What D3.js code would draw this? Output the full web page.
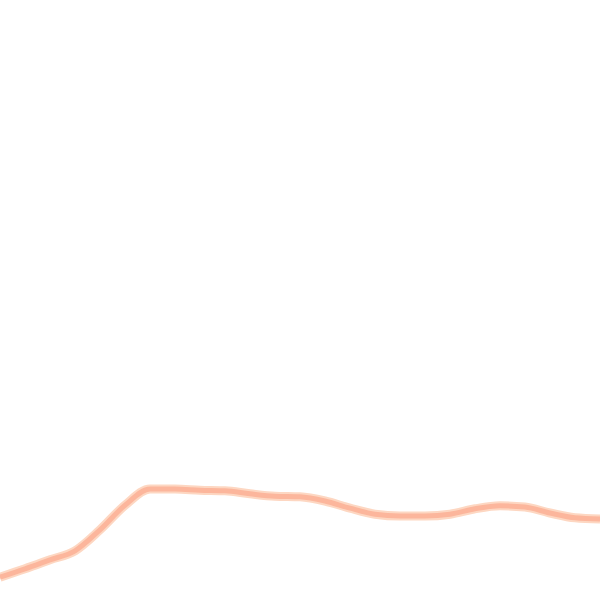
<!DOCTYPE html>
<html>
<head>
<meta charset="utf-8">
<script src="https://cdn.jsdelivr.net/npm/d3@7"></script>
<style>
  html, body { margin: 0; padding: 0; background: #fff; }
  svg { display: block; }
</style>
</head>
<body>
<script>
//series values, one per step
var steps = [0,1,2,3,4,5,6,7,8,9,10,11,12,13,14,15,16,17,18,19,20,21,22,23,24];
var values = [3.8,5.2,6.7,8.2,11.7,15.8,18.5,18.5,18.3,18.2,17.7,17.3,17.2,16.5,15.3,14.3,14.0,14.0,14.3,15.2,15.7,15.5,14.5,13.7,13.5];

window.onload = function(){
    var width = 600,
        height = 600;

    var svg = d3.select("body")
        .append("svg")
        .attr("width", width)
        .attr("height", height);

    var x = d3.scaleLinear()
        .domain([0, steps.length - 1])
        .range([0, width]);

    var y = d3.scaleLinear()
        .domain([0, 100])
        .range([height, 0]);

    var line = d3.line()
        .x(function(d, i){ return x(steps[i]); })
        .y(function(d){ return y(d); })
        .curve(d3.curveMonotoneX);

    //soft halo under the line
    svg.append("path")
        .datum(values)
        .attr("d", line)
        .attr("fill", "none")
        .attr("stroke", "#fdd7c2")
        .attr("stroke-width", 9);

    svg.append("path")
        .datum(values)
        .attr("d", line)
        .attr("fill", "none")
        .attr("stroke", "#fcb69c")
        .attr("stroke-width", 5);
};
</script>
</body>
</html>
